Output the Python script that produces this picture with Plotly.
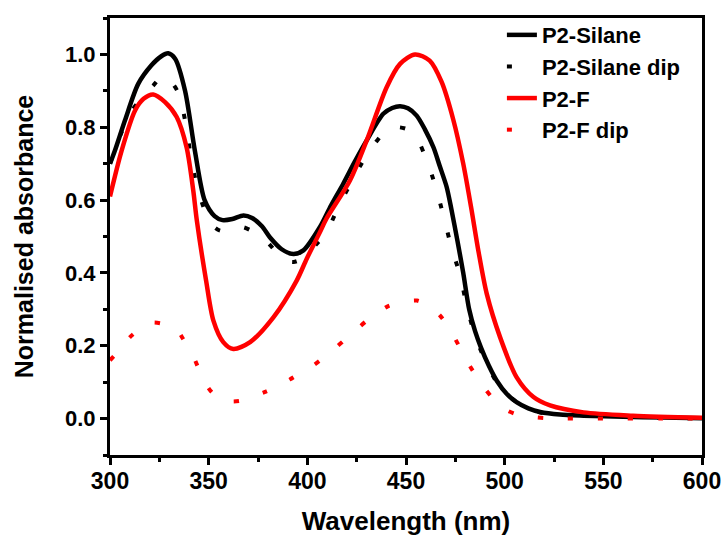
import plotly.graph_objects as go

# ---- data ----
wl_silane = [300, 302.5, 307.6, 314.3, 321, 326, 329.5, 333, 338, 343, 348, 353, 357, 362, 367.6, 372, 377, 381, 387,
             393, 398, 406.4, 412, 418.2, 424, 430.1, 438.5, 443, 447, 451, 455.4, 459.5, 463.9, 467, 470.6, 473, 476,
             479, 482, 485, 488, 492, 496, 501, 506, 512, 518, 528, 540, 560, 580, 600]
silane = [0.70, 0.736, 0.819, 0.919, 0.97, 0.995, 1.003, 0.988, 0.901, 0.736, 0.599, 0.556, 0.545, 0.548, 0.558, 0.551,
          0.528, 0.498, 0.465, 0.452, 0.462, 0.526, 0.585, 0.645, 0.705, 0.764, 0.837, 0.853, 0.858, 0.852, 0.832,
          0.795, 0.745, 0.695, 0.636, 0.575, 0.49, 0.40, 0.30, 0.24, 0.195, 0.145, 0.104, 0.068, 0.045, 0.028, 0.018,
          0.011, 0.008, 0.005, 0.003, 0.001]

wl_silane_dip = [300, 305, 311, 317, 322, 327, 331, 335, 338.5, 341, 344, 348.7, 352, 356, 362, 367, 372, 378, 383, 388,
                 393, 398, 404, 410, 416, 423, 430, 440, 446, 452, 456, 460, 465, 469, 473, 477.4, 480.8, 485, 491,
                 497.7, 508.6, 521, 540, 570, 600]
silane_dip = [0.70, 0.775, 0.845, 0.885, 0.915, 0.942, 0.925, 0.89, 0.805, 0.72, 0.64, 0.562, 0.53, 0.516, 0.52, 0.526,
              0.515, 0.494, 0.465, 0.436, 0.43, 0.441, 0.475, 0.515, 0.585, 0.656, 0.723, 0.791, 0.80, 0.791, 0.765,
              0.716, 0.637, 0.556, 0.471, 0.393, 0.31, 0.228, 0.15, 0.086, 0.036, 0.013, 0.008, 0.004, 0.0]

wl_f = [300, 305.9, 312.7, 317, 321.9, 327.9, 333.8, 338.8, 342.2, 344, 348.7, 352.4, 357.4, 362.5, 371, 382.8, 394.6,
        399.7, 406.4, 409.8, 421.6, 430.1, 440.2, 447, 454.6, 462, 468, 474, 479, 483, 486.7, 490.9, 497.7, 506.1,
        514.6, 523, 540, 565, 600]
p2f = [0.61, 0.736, 0.846, 0.878, 0.89, 0.869, 0.828, 0.745, 0.626, 0.544, 0.379, 0.269, 0.21, 0.191, 0.21, 0.278,
       0.379, 0.439, 0.512, 0.55, 0.654, 0.764, 0.91, 0.974, 1.0, 0.983, 0.925, 0.82, 0.70, 0.58, 0.46, 0.343, 0.223,
       0.113, 0.059, 0.036, 0.017, 0.008, 0.002]

wl_f_dip = [300, 305, 310, 315, 321, 327, 333.5, 338, 342, 348, 352, 357, 362, 367, 372.6, 379, 385.7, 391, 396.8, 403,
            408.5, 414, 419.5, 425, 430.6, 436, 441, 448, 455.6, 461, 466.6, 471, 474.9, 478.5, 482.1, 486, 490, 495,
            500.7, 507, 514.6, 522, 530, 545, 560, 580, 600]
p2f_dip = [0.16, 0.19, 0.223, 0.245, 0.263, 0.26, 0.246, 0.21, 0.173, 0.10, 0.07, 0.052, 0.047, 0.05, 0.061, 0.074,
           0.091, 0.107, 0.126, 0.146, 0.168, 0.193, 0.219, 0.245, 0.271, 0.292, 0.309, 0.32, 0.324, 0.31, 0.287,
           0.255, 0.219, 0.183, 0.147, 0.113, 0.082, 0.05, 0.024, 0.01, 0.004, 0.001, 0.0, 0.0, 0.0, 0.0, 0.0]

x_ticks = [300, 350, 400, 450, 500, 550, 600]
y_ticks = [0.0, 0.2, 0.4, 0.6, 0.8, 1.0]

FONT = "Liberation Sans, Arial, sans-serif"
DOT = "5px,25px"

fig = go.Figure()
series = [
    ("P2-Silane", wl_silane, silane, "black", "solid", 4.5),
    ("P2-Silane dip", wl_silane_dip, silane_dip, "black", DOT, 4),
    ("P2-F", wl_f, p2f, "#ff0000", "solid", 4.5),
    ("P2-F dip", wl_f_dip, p2f_dip, "#ff0000", DOT, 4),
]
for name, xs, ys, col, dash, w in series:
    fig.add_trace(go.Scatter(
        x=xs, y=ys, mode="lines", name=name,
        line=dict(color=col, dash=dash, width=w, shape="spline", smoothing=0.8),
    ))

fig.update_layout(
    width=728, height=541,
    margin=dict(l=110, r=26, t=18, b=86, autoexpand=False),
    paper_bgcolor="white", plot_bgcolor="white",
    font=dict(family=FONT, size=22, color="black", weight="bold"),
    showlegend=True,
    legend=dict(x=0.662, y=1.009, xanchor="left", yanchor="top",
                bgcolor="rgba(0,0,0,0)",
                font=dict(family=FONT, size=22, color="black", weight="bold")),
)
fig.update_xaxes(
    range=[300, 600], tickvals=x_ticks, ticktext=[str(v) for v in x_ticks],
    automargin=False,
    showline=True, linecolor="black", linewidth=3, mirror=True,
    ticks="outside", ticklen=7, tickwidth=3, tickcolor="black",
    ticklabelstandoff=-4,
    minor=dict(ticks="outside", ticklen=4, tickwidth=2.5, tickcolor="black", dtick=25),
    showgrid=False, zeroline=False,
    tickfont=dict(family=FONT, size=23, color="black", weight="bold"),
    title=dict(text="Wavelength (nm)", standoff=20,
               font=dict(family=FONT, size=26, color="black", weight="bold")),
)
fig.update_yaxes(
    range=[-0.1, 1.1], tickvals=y_ticks, ticktext=[f"{v:.1f}" for v in y_ticks],
    automargin=False,
    showline=True, linecolor="black", linewidth=3, mirror=True,
    ticks="outside", ticklen=7, tickwidth=3, tickcolor="black",
    minor=dict(ticks="outside", ticklen=4, tickwidth=2.5, tickcolor="black", dtick=0.1),
    showgrid=False, zeroline=False,
    tickfont=dict(family=FONT, size=22, color="black", weight="bold"),
    title=dict(text="Normalised absorbance", standoff=25,
               font=dict(family=FONT, size=25, color="black", weight="bold")),
)

fig.write_html("out.html")
